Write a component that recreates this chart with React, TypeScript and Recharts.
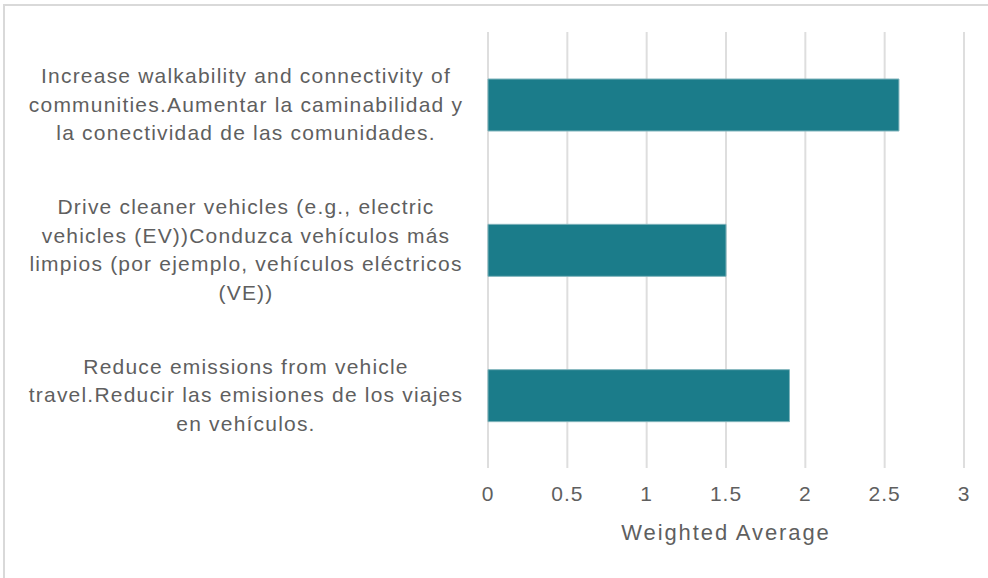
import React from "react";
import { BarChart, Bar, XAxis, YAxis, CartesianGrid, Label } from "recharts";

// Survey priorities and their weighted average scores
const categories: string[] = [
  "Increase walkability and connectivity of\ncommunities.Aumentar la caminabilidad y\nla conectividad de las comunidades.",
  "Drive cleaner vehicles (e.g., electric\nvehicles (EV))Conduzca vehículos más\nlimpios (por ejemplo, vehículos eléctricos\n(VE))",
  "Reduce emissions from vehicle\ntravel.Reducir las emisiones de los viajes\nen vehículos.",
];
const weightedAverage: number[] = [2.59, 1.5, 1.9];
const xTicks: number[] = [0, 0.5, 1, 1.5, 2, 2.5, 3];
const axisTitle = "Weighted Average";

const data = categories.map((name, i) => ({ name, value: weightedAverage[i] }));

const FONT = "'Liberation Sans', Arial, sans-serif";
const TEXT_COLOR = "#5f5f5f";
const BAR_COLOR = "#1B7C8A";
const GRID_COLOR = "#dedede";

const CategoryTick = (props: any) => {
  const { y, payload } = props;
  const lines: string[] = String(payload.value).split("\n");
  const lineHeight = 28.5;
  const cx = 246;
  return (
    <g>
      {lines.map((line, i) => (
        <text
          key={i}
          x={cx}
          y={y + (i - (lines.length - 1) / 2) * lineHeight + 7}
          textAnchor="middle"
          fill={TEXT_COLOR}
          fontSize={21}
          fontFamily={FONT}
          letterSpacing={1.2}
        >
          {line}
        </text>
      ))}
    </g>
  );
};

export default function App() {
  return (
    <div
      style={{
        position: "fixed",
        left: 0,
        top: 0,
        width: 988,
        height: 578,
        overflow: "hidden",
        background: "#ffffff",
      }}
    >
      <div
        style={{
          position: "absolute",
          left: 3,
          top: 4,
          width: 1100,
          height: 700,
          borderTop: "2px solid #d9d9d9",
          borderLeft: "2px solid #d9d9d9",
        }}
      />
      <div style={{ position: "absolute", left: 0, top: 0 }}>
        <BarChart
          width={988}
          height={578}
          data={data}
          layout="vertical"
          margin={{ top: 32, right: 24, bottom: 30, left: 0 }}
        >
          <CartesianGrid horizontal={false} stroke={GRID_COLOR} strokeWidth={2} />
          <XAxis
            type="number"
            domain={[0, 3]}
            ticks={xTicks}
            axisLine={false}
            tickLine={false}
            tickMargin={12}
            height={80}
            tick={{ fill: TEXT_COLOR, fontSize: 21, fontFamily: FONT, letterSpacing: 1 }}
          >
            <Label
              value={axisTitle}
              position="insideBottom"
              offset={8}
              fill={TEXT_COLOR}
              fontSize={22}
              fontFamily={FONT}
              letterSpacing={1.9}
            />
          </XAxis>
          <YAxis
            type="category"
            dataKey="name"
            width={488}
            axisLine={false}
            tickLine={false}
            interval={0}
            tick={<CategoryTick />}
          />
          <Bar
            dataKey="value"
            fill={BAR_COLOR}
            stroke="#7fb3bb"
            strokeWidth={1}
            barSize={52}
            isAnimationActive={false}
          />
        </BarChart>
      </div>
    </div>
  );
}
